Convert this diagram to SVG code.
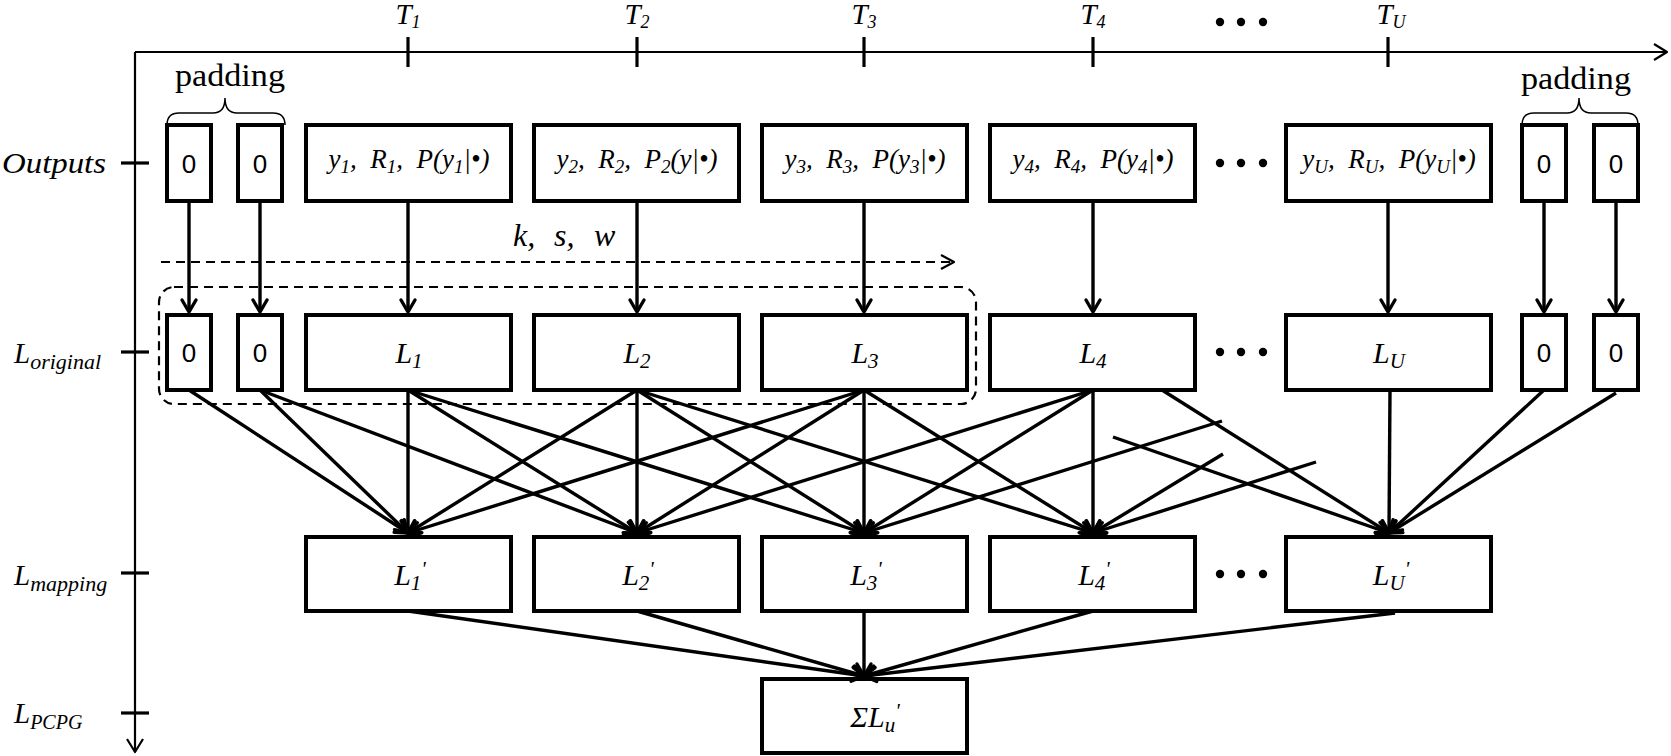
<svg xmlns="http://www.w3.org/2000/svg" width="1671" height="756" viewBox="0 0 1671 756">
<style>
text{fill:#000}
.it{font-family:"Liberation Serif","Times New Roman",serif;font-style:italic}
.rm{font-family:"Liberation Serif","Times New Roman",serif}
.sans{font-family:"Liberation Sans",Arial,sans-serif;font-size:26px}
.box{fill:#fff;stroke:#000;stroke-width:4}
.ax{stroke:#000;stroke-width:2.2;fill:none}
.tick{stroke:#000;stroke-width:3.2}
.c{stroke:#000;stroke-width:3.4;fill:none;marker-end:url(#arr)}
.dash{stroke:#000;stroke-width:2.2;fill:none;stroke-dasharray:9 6}
.brace{stroke:#000;stroke-width:1.5;fill:none}
.tl{font-size:29px}
.bt{font-size:27px}
.lt{font-size:30px}
</style>
<defs>
<marker id="arr" viewBox="-16 -10 20 20" refX="0" refY="0" markerWidth="20" markerHeight="20" markerUnits="userSpaceOnUse" orient="auto">
<path d="M-12,-7 L0,0 L-12,7" fill="none" stroke="#000" stroke-width="3.4" stroke-linejoin="round" stroke-linecap="round"/>
</marker>
<marker id="axarr" viewBox="-16 -10 20 20" refX="0" refY="0" markerWidth="20" markerHeight="20" markerUnits="userSpaceOnUse" orient="auto">
<path d="M-13,-8 L0,0 L-13,8" fill="none" stroke="#000" stroke-width="2.2" stroke-linejoin="round"/>
</marker>
<marker id="darr" viewBox="-16 -10 20 20" refX="0" refY="0" markerWidth="20" markerHeight="20" markerUnits="userSpaceOnUse" orient="auto">
<path d="M-13,-7 L0,0 L-13,7" fill="none" stroke="#000" stroke-width="2.2" stroke-linejoin="round"/>
</marker>
</defs>
<rect width="1671" height="756" fill="#fff"/>

<g id="axes">
<line class="ax" x1="135" y1="52" x2="1667" y2="52" marker-end="url(#axarr)"/>
<line class="ax" x1="135" y1="52" x2="135" y2="752" marker-end="url(#axarr)"/>
<line class="tick" x1="408" y1="37" x2="408" y2="67"/>
<line class="tick" x1="637" y1="37" x2="637" y2="67"/>
<line class="tick" x1="864" y1="37" x2="864" y2="67"/>
<line class="tick" x1="1093" y1="37" x2="1093" y2="67"/>
<line class="tick" x1="1388" y1="37" x2="1388" y2="67"/>
<line class="tick" x1="121" y1="163" x2="149" y2="163"/>
<line class="tick" x1="121" y1="352" x2="149" y2="352"/>
<line class="tick" x1="121" y1="573" x2="149" y2="573"/>
<line class="tick" x1="121" y1="713" x2="149" y2="713"/>
<text class="it tl" x="408" y="24" text-anchor="middle">T<tspan font-size="18" dy="4">1</tspan></text>
<text class="it tl" x="637" y="24" text-anchor="middle">T<tspan font-size="18" dy="4">2</tspan></text>
<text class="it tl" x="864" y="24" text-anchor="middle">T<tspan font-size="18" dy="4">3</tspan></text>
<text class="it tl" x="1093" y="24" text-anchor="middle">T<tspan font-size="18" dy="4">4</tspan></text>
<text class="it tl" x="1391" y="24" text-anchor="middle">T<tspan font-size="18" dy="4">U</tspan></text>
<g id="dots-top"><circle cx="1220" cy="22" r="4.2"/><circle cx="1241" cy="22" r="4.2"/><circle cx="1263" cy="22" r="4.2"/></g>
<text class="it" x="2" y="173" font-size="29" textLength="104" lengthAdjust="spacingAndGlyphs">Outputs</text>
<text class="it" x="14" y="363" font-size="29">L<tspan font-size="22" dy="6">original</tspan></text>
<text class="it" x="14" y="585" font-size="29">L<tspan font-size="22" dy="6">mapping</tspan></text>
<text class="it" x="14" y="723" font-size="29">L<tspan font-size="20" dy="6">PCPG</tspan></text>
</g>

<g id="padding-left">
<path class="brace" d="M167,125 Q167,113 179,113 L213,113 Q225,113 225,98 Q225,113 237,113 L273,113 Q285,113 285,125"/>
<text class="rm" x="175" y="86" font-size="31" textLength="110" lengthAdjust="spacingAndGlyphs">padding</text>
</g>
<g id="padding-right">
<path class="brace" d="M1522,125 Q1522,113 1534,113 L1567,113 Q1579,113 1579,98 Q1579,113 1591,113 L1626,113 Q1638,113 1638,125"/>
<text class="rm" x="1521" y="89" font-size="31" textLength="110" lengthAdjust="spacingAndGlyphs">padding</text>
</g>

<g id="out-pad1"><rect class="box" x="167" y="125" width="44" height="76"/><text class="sans" x="189" y="173" text-anchor="middle">0</text></g>
<g id="out-pad2"><rect class="box" x="238" y="125" width="44" height="76"/><text class="sans" x="260" y="173" text-anchor="middle">0</text></g>
<g id="out-1"><rect class="box" x="306" y="125" width="205" height="76"/><text class="it bt" x="409" y="168" text-anchor="middle" xml:space="preserve">y<tspan font-size="19" dy="5">1</tspan><tspan dy="-5">,  R</tspan><tspan font-size="19" dy="5">1</tspan><tspan dy="-5">,  P(y</tspan><tspan font-size="19" dy="5">1</tspan><tspan dy="-5">|•)</tspan></text></g>
<g id="out-2"><rect class="box" x="534" y="125" width="205" height="76"/><text class="it bt" x="637" y="168" text-anchor="middle" xml:space="preserve">y<tspan font-size="19" dy="5">2</tspan><tspan dy="-5">,  R</tspan><tspan font-size="19" dy="5">2</tspan><tspan dy="-5">,  P</tspan><tspan font-size="19" dy="5">2</tspan><tspan dy="-5">(y|•)</tspan></text></g>
<g id="out-3"><rect class="box" x="762" y="125" width="205" height="76"/><text class="it bt" x="865" y="168" text-anchor="middle" xml:space="preserve">y<tspan font-size="19" dy="5">3</tspan><tspan dy="-5">,  R</tspan><tspan font-size="19" dy="5">3</tspan><tspan dy="-5">,  P(y</tspan><tspan font-size="19" dy="5">3</tspan><tspan dy="-5">|•)</tspan></text></g>
<g id="out-4"><rect class="box" x="990" y="125" width="205" height="76"/><text class="it bt" x="1093" y="168" text-anchor="middle" xml:space="preserve">y<tspan font-size="19" dy="5">4</tspan><tspan dy="-5">,  R</tspan><tspan font-size="19" dy="5">4</tspan><tspan dy="-5">,  P(y</tspan><tspan font-size="19" dy="5">4</tspan><tspan dy="-5">|•)</tspan></text></g>
<g id="out-dots"><circle cx="1220" cy="163" r="4.2"/><circle cx="1241" cy="163" r="4.2"/><circle cx="1263" cy="163" r="4.2"/></g>
<g id="out-U"><rect class="box" x="1286" y="125" width="205" height="76"/><text class="it bt" x="1389" y="168" text-anchor="middle" xml:space="preserve">y<tspan font-size="19" dy="5">U</tspan><tspan dy="-5">,  R</tspan><tspan font-size="19" dy="5">U</tspan><tspan dy="-5">,  P(y</tspan><tspan font-size="19" dy="5">U</tspan><tspan dy="-5">|•)</tspan></text></g>
<g id="out-pad3"><rect class="box" x="1522" y="125" width="44" height="76"/><text class="sans" x="1544" y="173" text-anchor="middle">0</text></g>
<g id="out-pad4"><rect class="box" x="1594" y="125" width="44" height="76"/><text class="sans" x="1616" y="173" text-anchor="middle">0</text></g>

<g id="kernel">
<rect class="dash" x="159" y="287" width="817" height="117" rx="15" ry="15"/>
<line class="dash" x1="161" y1="262" x2="954" y2="262" marker-end="url(#darr)"/>
<text class="it" y="246" font-size="32"><tspan x="513">k,</tspan><tspan x="554">s,</tspan><tspan x="594">w</tspan></text>
</g>

<g id="orig-pad1"><rect class="box" x="167" y="315" width="44" height="75"/><text class="sans" x="189" y="362" text-anchor="middle">0</text></g>
<g id="orig-pad2"><rect class="box" x="238" y="315" width="44" height="75"/><text class="sans" x="260" y="362" text-anchor="middle">0</text></g>
<g id="orig-1"><rect class="box" x="306" y="315" width="205" height="75"/><text class="it lt" x="409" y="363" text-anchor="middle">L<tspan font-size="21" dy="5">1</tspan></text></g>
<g id="orig-2"><rect class="box" x="534" y="315" width="205" height="75"/><text class="it lt" x="637" y="363" text-anchor="middle">L<tspan font-size="21" dy="5">2</tspan></text></g>
<g id="orig-3"><rect class="box" x="762" y="315" width="205" height="75"/><text class="it lt" x="865" y="363" text-anchor="middle">L<tspan font-size="21" dy="5">3</tspan></text></g>
<g id="orig-4"><rect class="box" x="990" y="315" width="205" height="75"/><text class="it lt" x="1093" y="363" text-anchor="middle">L<tspan font-size="21" dy="5">4</tspan></text></g>
<g id="orig-dots"><circle cx="1220" cy="352" r="4.2"/><circle cx="1241" cy="352" r="4.2"/><circle cx="1263" cy="352" r="4.2"/></g>
<g id="orig-U"><rect class="box" x="1286" y="315" width="205" height="75"/><text class="it lt" x="1389" y="363" text-anchor="middle">L<tspan font-size="21" dy="5">U</tspan></text></g>
<g id="orig-pad3"><rect class="box" x="1522" y="315" width="44" height="75"/><text class="sans" x="1544" y="362" text-anchor="middle">0</text></g>
<g id="orig-pad4"><rect class="box" x="1594" y="315" width="44" height="75"/><text class="sans" x="1616" y="362" text-anchor="middle">0</text></g>

<g id="map-1"><rect class="box" x="306" y="537" width="205" height="74"/><text class="it lt" x="410" y="585" text-anchor="middle">L<tspan font-size="21" dy="5">1</tspan><tspan font-size="21" dy="-14">'</tspan></text></g>
<g id="map-2"><rect class="box" x="534" y="537" width="205" height="74"/><text class="it lt" x="638" y="585" text-anchor="middle">L<tspan font-size="21" dy="5">2</tspan><tspan font-size="21" dy="-14">'</tspan></text></g>
<g id="map-3"><rect class="box" x="762" y="537" width="205" height="74"/><text class="it lt" x="866" y="585" text-anchor="middle">L<tspan font-size="21" dy="5">3</tspan><tspan font-size="21" dy="-14">'</tspan></text></g>
<g id="map-4"><rect class="box" x="990" y="537" width="205" height="74"/><text class="it lt" x="1094" y="585" text-anchor="middle">L<tspan font-size="21" dy="5">4</tspan><tspan font-size="21" dy="-14">'</tspan></text></g>
<g id="map-dots"><circle cx="1220" cy="574" r="4.2"/><circle cx="1241" cy="574" r="4.2"/><circle cx="1263" cy="574" r="4.2"/></g>
<g id="map-U"><rect class="box" x="1286" y="537" width="205" height="74"/><text class="it lt" x="1391" y="585" text-anchor="middle">L<tspan font-size="21" dy="5">U</tspan><tspan font-size="21" dy="-14">'</tspan></text></g>

<g id="pcpg"><rect class="box" x="762" y="679" width="205" height="74"/><text class="it lt" x="875" y="727" text-anchor="middle">ΣL<tspan font-size="21" dy="5">u</tspan><tspan font-size="21" dy="-14">'</tspan></text></g>

<g id="connectors">
<line class="c" x1="189" y1="201" x2="189" y2="312"/>
<line class="c" x1="260" y1="201" x2="260" y2="312"/>
<line class="c" x1="408" y1="201" x2="408" y2="312"/>
<line class="c" x1="637" y1="201" x2="637" y2="312"/>
<line class="c" x1="864" y1="201" x2="864" y2="312"/>
<line class="c" x1="1093" y1="201" x2="1093" y2="312"/>
<line class="c" x1="1388" y1="201" x2="1388" y2="312"/>
<line class="c" x1="1544" y1="201" x2="1544" y2="312"/>
<line class="c" x1="1616" y1="201" x2="1616" y2="312"/>

<line class="c" x1="189" y1="390" x2="408" y2="533"/>
<line class="c" x1="260" y1="390" x2="408" y2="533"/>
<line class="c" x1="260" y1="390" x2="637" y2="533"/>
<line class="c" x1="408" y1="390" x2="408" y2="533"/>
<line class="c" x1="408" y1="390" x2="637" y2="533"/>
<line class="c" x1="408" y1="390" x2="864" y2="533"/>
<line class="c" x1="637" y1="390" x2="408" y2="533"/>
<line class="c" x1="637" y1="390" x2="637" y2="533"/>
<line class="c" x1="637" y1="390" x2="864" y2="533"/>
<line class="c" x1="637" y1="390" x2="1093" y2="533"/>
<line class="c" x1="864" y1="390" x2="408" y2="533"/>
<line class="c" x1="864" y1="390" x2="637" y2="533"/>
<line class="c" x1="864" y1="390" x2="864" y2="533"/>
<line class="c" x1="864" y1="390" x2="1093" y2="533"/>
<line class="c" x1="1093" y1="390" x2="637" y2="533"/>
<line class="c" x1="1093" y1="390" x2="864" y2="533"/>
<line class="c" x1="1093" y1="390" x2="1093" y2="533"/>
<line class="c" x1="1162" y1="390" x2="1389" y2="533"/>
<line class="c" x1="1222" y1="421" x2="864" y2="533"/>
<line class="c" x1="1223" y1="454" x2="1093" y2="533"/>
<line class="c" x1="1316" y1="462" x2="1093" y2="533"/>
<line class="c" x1="1113" y1="437" x2="1389" y2="533"/>
<line class="c" x1="1390" y1="390" x2="1389" y2="533"/>
<line class="c" x1="1544" y1="390" x2="1389" y2="533"/>
<line class="c" x1="1616" y1="393" x2="1389" y2="533"/>

<line class="c" x1="408" y1="611" x2="864" y2="676"/>
<line class="c" x1="637" y1="611" x2="864" y2="676"/>
<line class="c" x1="864" y1="611" x2="864" y2="676"/>
<line class="c" x1="1093" y1="611" x2="864" y2="676"/>
<line class="c" x1="1395" y1="613" x2="864" y2="676"/>
</g>
</svg>
